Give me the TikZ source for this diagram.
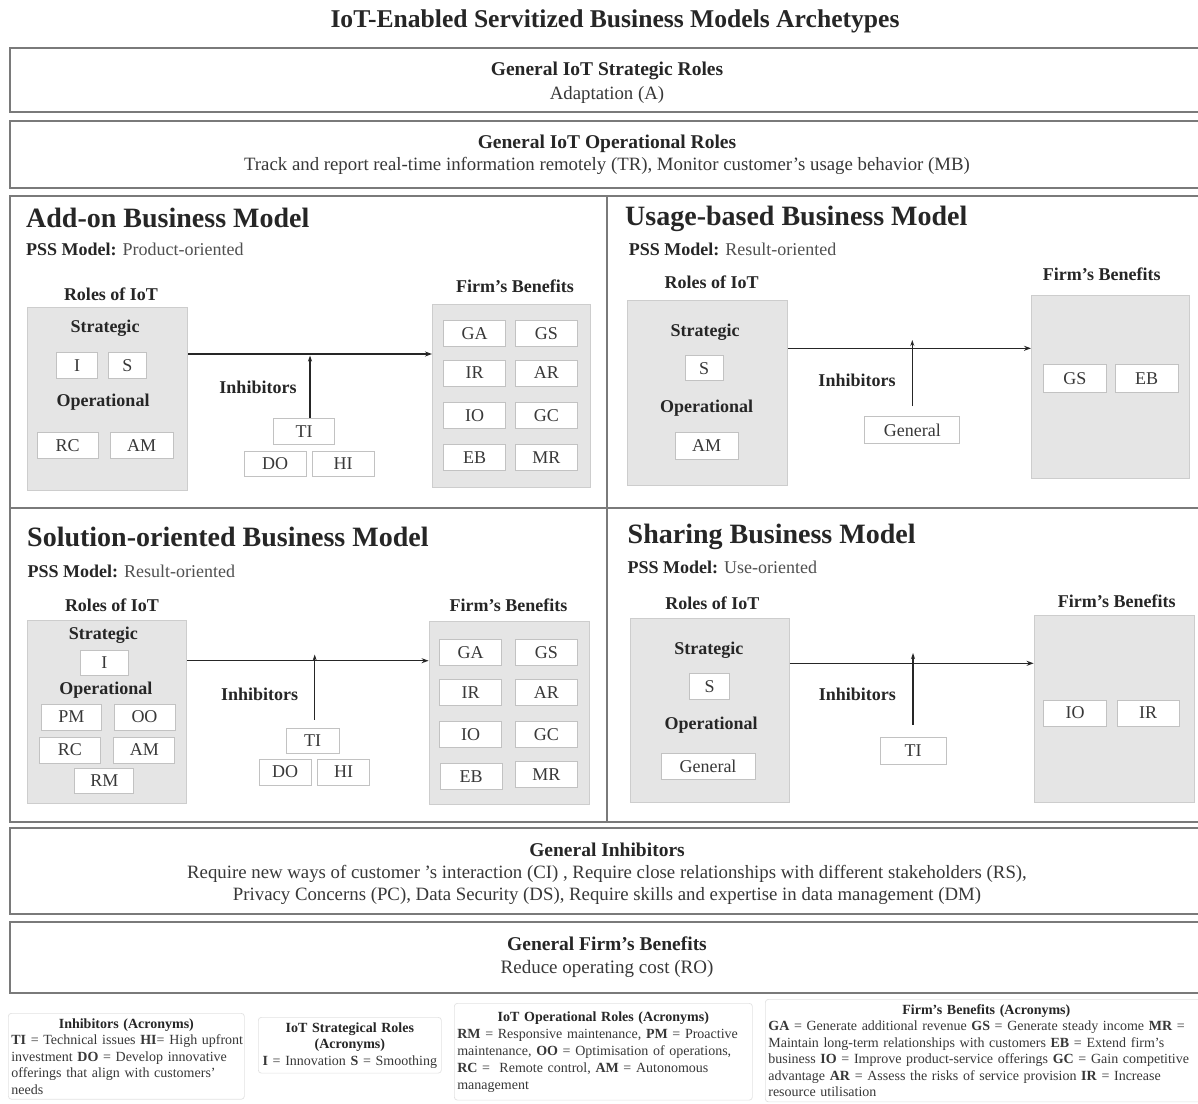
\documentclass[tikz,border=0pt]{standalone}
\usepackage{fontspec}
\setmainfont{Liberation Serif}
\usetikzlibrary{arrows.meta}
\definecolor{txt}{HTML}{262626}
\definecolor{body}{HTML}{383838}
\definecolor{pssc}{HTML}{505050}
\definecolor{frame}{HTML}{7A7A7A}
\definecolor{panel}{HTML}{E5E5E5}
\definecolor{panelb}{HTML}{CDCDCD}
\definecolor{chipb}{HTML}{C2C2C2}
\definecolor{legb}{HTML}{E2E2E2}
\newcommand{\fs}[2]{\fontsize{#1}{#2}\selectfont}
\newcommand{\bhead}[1]{{\bfseries\color{txt}\fontsize{19.5}{23}\selectfont #1}}
\tikzset{
  frm/.style={draw=frame, line width=1.8pt},
  bigbox/.style={frm, minimum width=1194pt, inner sep=0pt},
  boxtxt/.style={inner sep=0pt, align=center, text=body},
  panelbox/.style={draw=panelb, fill=panel, line width=1pt, anchor=north west, inner sep=0pt},
  chip/.style={draw=chipb, fill=white, line width=1pt, minimum width=62pt, minimum height=26pt, inner sep=0pt, font=\fs{18}{20}, text=body},
  hd/.style={font=\bfseries\fs{18}{20}, text=txt, inner sep=0pt},
  mtitle/.style={font=\bfseries\fs{28}{32}, text=txt, anchor=base west, inner sep=0pt},
  pss/.style={font=\fs{18}{20}, text=pssc, anchor=base west, inner sep=0pt},
  flow/.style={draw=txt, line width=1.4pt, -{Stealth[length=7pt,width=5pt]}},
  inh/.style={draw=txt, line width=1.1pt, -{Stealth[length=6pt,width=4pt]}},
  legend/.style={draw=legb, line width=0.7pt, rounded corners=3pt, inner xsep=3pt, inner ysep=5pt, font=\fs{14}{16.5}, text=body, align=left, anchor=north west},
}
\begin{document}
\begin{tikzpicture}[x=1pt,y=-1pt]
\useasboundingbox[fill=white] (0,0) rectangle (1198,1103);

% title
\node[font=\bfseries\fs{25.6}{28}, text=txt, inner sep=0pt] (title) at (615,21.5) {IoT-Enabled Servitized Business Models Archetypes};

% top boxes
\node[bigbox, minimum height=64pt] (gsr) at (607,80) {};
\node[boxtxt, font=\fs{18.8}{23.5}] (gsrT) at (607,82.5) {\bhead{General IoT Strategic Roles}\\Adaptation (A)};
\node[bigbox, minimum height=67pt] (gor) at (607,154.5) {};
\node[boxtxt, font=\fs{18.8}{22.5}] (gorT) at (607,155) {\bhead{General IoT Operational Roles}\\Track and report real-time information remotely (TR), Monitor customer’s usage behavior (MB)};

% quadrant frame
\draw[frm] (10,196) rectangle (1204,822);
\draw[frm] (607,196) -- (607,822);
\draw[frm] (10,508) -- (1204,508);

% ---------------- Add-on ----------------
\node[mtitle] (tA) at (26,227) {Add-on Business Model};
\node[pss] (pA) at (26,255) {\textbf{\color{txt}PSS Model:} Product-oriented};
\node[hd] (rlA) at (111,294) {Roles of IoT};
\node[panelbox, minimum width=160pt, minimum height=183pt] (rA) at (27,307) {};
\node[hd] (stA) at (105,328) {Strategic};
\node[chip, minimum width=41pt] (iA) at (77,365.5) {I};
\node[chip, minimum width=38pt] (sA) at (127.5,365.5) {S};
\node[hd] (opA) at (103,402) {Operational};
\node[chip, minimum width=61pt] (rcA) at (67.7,445.5) {RC};
\node[chip, minimum width=63pt] (amA) at (141.7,445.5) {AM};
\node[hd] (fbA) at (515,286) {Firm’s Benefits};
\node[panelbox, minimum width=158pt, minimum height=183pt] (bA) at (432,304) {};
\node[chip] (gaA) at (474.5,333.5) {GA};
\node[chip] (gsA) at (546.3,333.5) {GS};
\node[chip] (irA) at (474.5,373) {IR};
\node[chip] (arA) at (546.3,373) {AR};
\node[chip] (ioA) at (474.5,415.5) {IO};
\node[chip] (gcA) at (546.3,415.5) {GC};
\node[chip] (ebA) at (474.5,457.5) {EB};
\node[chip] (mrA) at (546.3,457.5) {MR};
\draw[flow] (rA.east |- 0,354) -- (bA.west |- 0,354);
\node[hd] (ihA) at (258,387) {Inhibitors};
\node[chip, minimum width=61pt, minimum height=26pt] (tiA) at (304,431.5) {TI};
\node[chip, minimum height=25pt] (doA) at (275,464) {DO};
\node[chip, minimum height=25pt] (hiA) at (343,464) {HI};
\draw[inh] ([xshift=6pt]tiA.north) -- ([xshift=6pt]tiA.north |- 0,355.5);

% ---------------- Usage-based ----------------
\node[mtitle] (tB) at (625,225) {Usage-based Business Model};
\node[pss] (pB) at (628.6,255) {\textbf{\color{txt}PSS Model:} Result-oriented};
\node[hd] (rlB) at (711.6,282) {Roles of IoT};
\node[panelbox, minimum width=160pt, minimum height=185pt] (rB) at (627,300) {};
\node[hd] (stB) at (705,332) {Strategic};
\node[chip, minimum width=38pt, minimum height=25pt] (sB) at (704,368.3) {S};
\node[hd] (opB) at (706.7,408.3) {Operational};
\node[chip, minimum width=63pt, minimum height=27pt] (amB) at (706.6,446) {AM};
\node[hd] (fbB) at (1101.7,274) {Firm’s Benefits};
\node[panelbox, minimum width=158pt, minimum height=183pt] (bB) at (1031,295) {};
\node[chip, minimum width=63pt, minimum height=28pt] (gsB) at (1074.8,378.3) {GS};
\node[chip, minimum width=63pt, minimum height=28pt] (ebB) at (1146.7,378.3) {EB};
\draw[flow] (rB.east |- 0,348.3) -- (bB.west |- 0,348.3);
\node[hd] (ihB) at (857,380) {Inhibitors};
\node[chip, minimum width=95pt, minimum height=27pt] (genB) at (912.3,430) {General};
\draw[inh] ([yshift=10pt]genB.north) -- ([yshift=10pt]genB.north |- 0,350);

% ---------------- Solution-oriented ----------------
\node[mtitle] (tC) at (27,546) {Solution-oriented Business Model};
\node[pss] (pC) at (27.5,577) {\textbf{\color{txt}PSS Model:} Result-oriented};
\node[hd] (rlC) at (112,605) {Roles of IoT};
\node[panelbox, minimum width=159pt, minimum height=183pt] (rC) at (27,620) {};
\node[hd] (stC) at (103.3,635) {Strategic};
\node[chip, minimum width=48pt, minimum height=25pt] (iC) at (104.3,662.5) {I};
\node[hd] (opC) at (105.8,690) {Operational};
\node[chip, minimum width=60pt] (pmC) at (71.4,717) {PM};
\node[chip, minimum width=61pt] (ooC) at (144.5,717) {OO};
\node[chip, minimum width=61pt] (rcC) at (69.8,750) {RC};
\node[chip, minimum width=61pt] (amC) at (144.3,750) {AM};
\node[chip, minimum width=59pt, minimum height=25pt] (rmC) at (104.3,781) {RM};
\node[hd] (fbC) at (508.5,605) {Firm’s Benefits};
\node[panelbox, minimum width=160pt, minimum height=183pt] (bC) at (428.6,620.7) {};
\node[chip] (gaC) at (470.7,652.5) {GA};
\node[chip] (gsC) at (546.3,652.5) {GS};
\node[chip] (irC) at (470.7,692.5) {IR};
\node[chip] (arC) at (546.3,692.5) {AR};
\node[chip] (ioC) at (470.7,734.5) {IO};
\node[chip] (gcC) at (546.3,734.5) {GC};
\node[chip] (ebC) at (471,776.5) {EB};
\node[chip] (mrC) at (546.3,774.5) {MR};
\draw[flow] (rC.east |- 0,660.7) -- (bC.west |- 0,660.7);
\node[hd] (ihC) at (259.6,694) {Inhibitors};
\node[chip, minimum width=53pt, minimum height=25pt] (tiC) at (312.7,740.8) {TI};
\node[chip, minimum width=52pt] (doC) at (285,772) {DO};
\node[chip, minimum width=52pt] (hiC) at (343.5,772) {HI};
\draw[inh] ([xshift=2pt,yshift=8pt]tiC.north) -- ([xshift=2pt,yshift=8pt]tiC.north |- 0,662.5);

% ---------------- Sharing ----------------
\node[mtitle] (tD) at (627.5,543) {Sharing Business Model};
\node[pss] (pD) at (627.5,573) {\textbf{\color{txt}PSS Model:} Use-oriented};
\node[hd] (rlD) at (712.4,603.3) {Roles of IoT};
\node[panelbox, minimum width=159pt, minimum height=184pt] (rD) at (629.7,618) {};
\node[hd] (stD) at (708.9,650) {Strategic};
\node[chip, minimum width=40pt] (sD) at (709.6,686.3) {S};
\node[hd] (opD) at (711.1,725) {Operational};
\node[chip, minimum width=94pt] (genD) at (708,766.3) {General};
\node[hd] (fbD) at (1116.8,601.7) {Firm’s Benefits};
\node[panelbox, minimum width=160pt, minimum height=187pt] (bD) at (1033.6,615) {};
\node[chip, minimum width=63pt] (ioD) at (1075,713) {IO};
\node[chip, minimum width=62pt] (irD) at (1148,713) {IR};
\draw[flow] (rD.east |- 0,663.3) -- (bD.west |- 0,663.3);
\node[hd] (ihD) at (857.3,694.3) {Inhibitors};
\node[chip, minimum width=66pt, minimum height=27pt] (tiD) at (913,750.7) {TI};
\draw[inh] ([yshift=12pt]tiD.north) -- ([yshift=12pt]tiD.north |- 0,665);

% general boxes
\node[bigbox, minimum height=86pt] (gin) at (607,871) {};
\node[boxtxt, font=\fs{18.8}{22}] (ginT) at (607,874) {\bhead{General Inhibitors}\\Require new ways of customer ’s interaction (CI) , Require close relationships with different stakeholders (RS),\\Privacy Concerns (PC), Data Security (DS), Require skills and expertise in data management (DM)};
\node[bigbox, minimum height=71pt] (gfb) at (607,957.5) {};
\node[boxtxt, font=\fs{19}{23.5}] (gfbT) at (607,957) {\bhead{General Firm’s Benefits}\\Reduce operating cost (RO)};

% legends
\node[legend, text width=230pt] (lg1) at (8,1013) {%
\makebox[230pt]{\textbf{\color{txt}Inhibitors (Acronyms)}}\\
\makebox[230pt][s]{\textbf{TI} = Technical issues \textbf{HI}= High upfront}\\
\makebox[230pt][s]{investment \textbf{DO} = Develop innovative}\\
\makebox[230pt][s]{offerings that align with customers’}\\
needs};
\node[legend, text width=177pt] (lg2) at (258,1017) {%
\makebox[177pt]{\textbf{\color{txt}IoT Strategical Roles}}\\
\makebox[177pt]{\textbf{\color{txt}(Acronyms)}}\\
\makebox[177pt]{\textbf{I} = Innovation \textbf{S} = Smoothing}};
\node[legend, text width=292pt, inner ysep=8pt, font=\fs{14}{17}] (lg3) at (454,1003) {%
\makebox[292pt]{\textbf{\color{txt}IoT Operational Roles (Acronyms)}}\\
\makebox[292pt][s]{\textbf{RM} = Responsive maintenance, \textbf{PM} = Proactive}\\
\makebox[292pt][s]{maintenance, \textbf{OO} = Optimisation of operations,}\\
\makebox[292pt][s]{\textbf{RC} =\ \ Remote control, \textbf{AM} = Autonomous}\\
management};
\node[legend, text width=436pt] (lg4) at (765,999) {%
\makebox[436pt]{\textbf{\color{txt}Firm’s Benefits (Acronyms)}}\\
\makebox[436pt][s]{\textbf{GA} = Generate additional revenue \textbf{GS} = Generate steady income \textbf{MR} =}\\
\makebox[436pt][s]{Maintain long-term relationships with customers \textbf{EB} = Extend firm’s}\\
\makebox[436pt][s]{business \textbf{IO} = Improve product-service offerings \textbf{GC} = Gain competitive}\\
\makebox[436pt][s]{advantage \textbf{AR} = Assess the risks of service provision \textbf{IR} = Increase}\\
resource utilisation};
\end{tikzpicture}
\end{document}
